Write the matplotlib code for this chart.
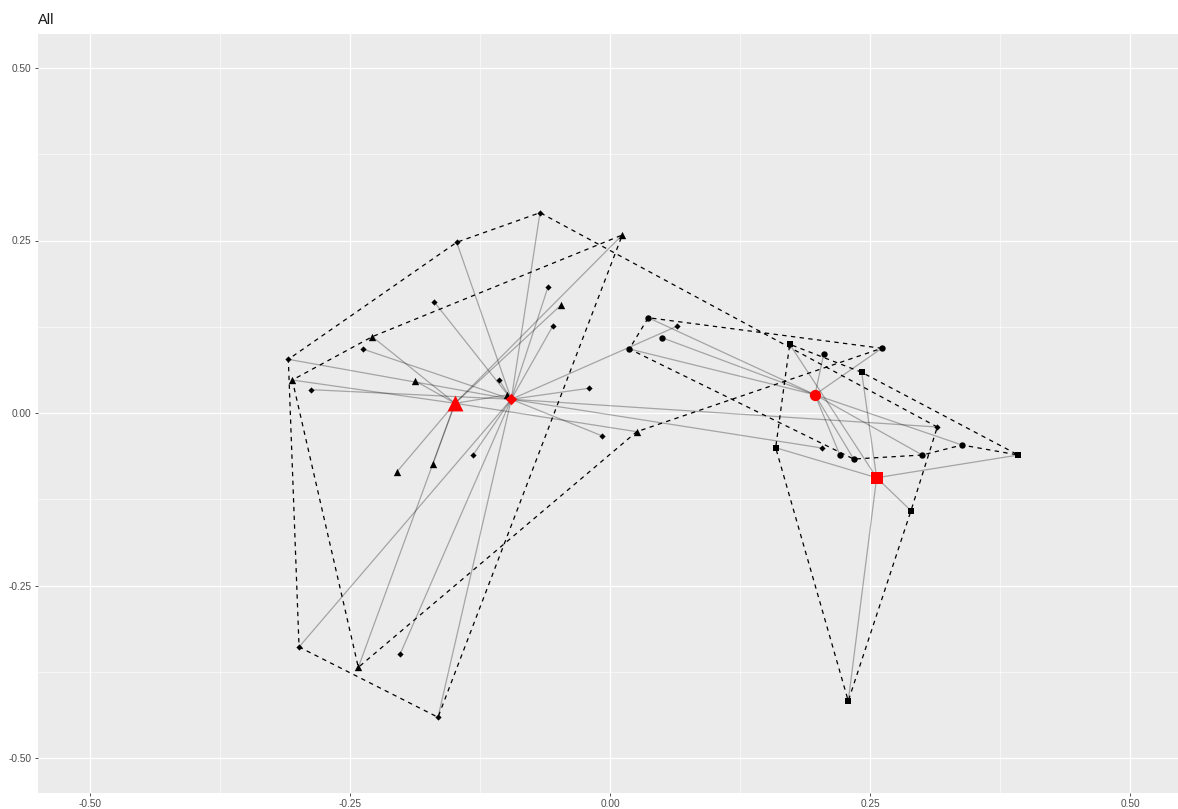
import numpy as np
import matplotlib.pyplot as plt
from matplotlib.ticker import FixedLocator

plt.rcParams['font.family'] = ['Liberation Sans', 'DejaVu Sans']

# scores, one small set per group
dia_x = [-0.0673, -0.1474, -0.3093, -0.1692, -0.0596, -0.0548, -0.2378, -0.2872, -0.1064,
         -0.0205, -0.0074, -0.1317, -0.2990, -0.2016, -0.1654, 0.0644, 0.2036, 0.3147]
dia_y = [0.2903, 0.2474, 0.0778, 0.1613, 0.1826, 0.1265, 0.0928, 0.0338, 0.0474,
         0.0358, -0.0333, -0.0609, -0.3391, -0.3488, -0.4410, 0.1257, -0.0507, -0.0203]
dia_cent = (-0.0949, 0.0199)
dia_hull = [17, 0, 1, 2, 12, 14]

tri_x = [0.0118, -0.0471, -0.2286, -0.1872, -0.3055, -0.2048, -0.1705, -0.0993, -0.2420, 0.0257]
tri_y = [0.2580, 0.1565, 0.1106, 0.0464, 0.0478, -0.0851, -0.0743, 0.0261, -0.3686, -0.0271]
tri_cent = (-0.1490, 0.0141)
tri_hull = [0, 2, 4, 8, 9]

cir_x = [0.0368, 0.0500, 0.0186, 0.2055, 0.2613, 0.2209, 0.2343, 0.3003, 0.3385]
cir_y = [0.1381, 0.1091, 0.0928, 0.0855, 0.0938, -0.0604, -0.0667, -0.0609, -0.0464]
cir_cent = (0.1971, 0.0265)
cir_hull = [4, 0, 2, 6, 7, 8]

sq_x = [0.1728, 0.2420, 0.3926, 0.2894, 0.2291, 0.1593]
sq_y = [0.0996, 0.0590, -0.0609, -0.1416, -0.4174, -0.0503]
sq_cent = (0.2564, -0.0938)
sq_hull = [2, 1, 0, 5, 4, 3]

ticks = [-0.50, -0.25, 0.00, 0.25, 0.50]
tick_labels = ['-0.50', '-0.25', '0.00', '0.25', '0.50']

groups = [
    (dia_x, dia_y, dia_cent, dia_hull, 'D', 10, 34),
    (tri_x, tri_y, tri_cent, tri_hull, '^', 28, 130),
    (cir_x, cir_y, cir_cent, cir_hull, 'o', 21, 66),
    (sq_x, sq_y, sq_cent, sq_hull, 's', 24, 76),
]

fig = plt.figure(figsize=(11.78, 8.09), dpi=100)
ax = fig.add_axes([38 / 1178, 1 - 792.5 / 809, 1144 / 1178, 759 / 809])
ax.set_facecolor('#EBEBEB')
for s in ax.spines.values():
    s.set_visible(False)

ax.set_xlim(-0.55, 0.55)
ax.set_ylim(-0.55, 0.55)
ax.xaxis.set_major_locator(FixedLocator(ticks))
ax.yaxis.set_major_locator(FixedLocator(ticks))
ax.xaxis.set_minor_locator(FixedLocator([-0.375, -0.125, 0.125, 0.375]))
ax.yaxis.set_minor_locator(FixedLocator([-0.375, -0.125, 0.125, 0.375]))
ax.set_xticklabels(tick_labels)
ax.set_yticklabels(tick_labels)
ax.grid(which='major', color='white', lw=0.9)
ax.grid(which='minor', color='white', lw=0.4)
ax.set_axisbelow(True)
ax.tick_params(which='major', length=2.5, width=0.6, color='#333333',
               labelsize=7.3, labelcolor='#4D4D4D', pad=2)
ax.tick_params(which='minor', length=0)

# spider lines from each point to its group centroid
for gx, gy, cent, hull, m, s_pt, s_cent in groups:
    for px, py in zip(gx, gy):
        ax.plot([cent[0], px], [cent[1], py], color='black', alpha=0.3, lw=0.9, zorder=2)

# hulls drawn as one path, so the groups run into each other
hx, hy = [], []
for gx, gy, cent, hull, m, s_pt, s_cent in groups:
    hx += [gx[i] for i in hull]
    hy += [gy[i] for i in hull]
hx.append(hx[0])
hy.append(hy[0])
ax.plot(hx, hy, color='black', lw=0.9, ls=(0, (3.5, 3.5)), zorder=3)

for gx, gy, cent, hull, m, s_pt, s_cent in groups:
    ax.scatter(gx, gy, marker=m, s=s_pt, c='black', linewidths=0, zorder=4)
    ax.scatter([cent[0]], [cent[1]], marker=m, s=s_cent, c='red', linewidths=0, zorder=5)

ax.set_title('All', loc='left', fontsize=10.5, color='#1A1A1A', pad=6.5)

fig.savefig('out.png', dpi=100)
